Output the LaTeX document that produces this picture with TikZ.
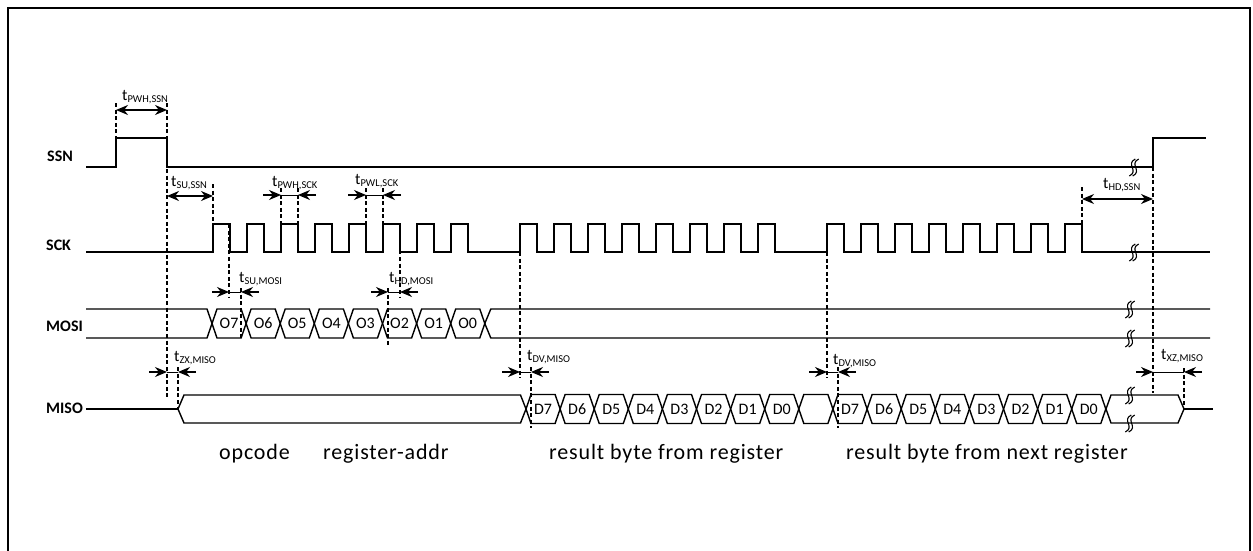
\documentclass[tikz,border=0pt]{standalone}
\usepackage{fontspec}
\setmainfont{Carlito}
\usetikzlibrary{calc, positioning, arrows.meta}

\newcommand{\tname}[1]{t\raisebox{-2pt}{\fontsize{10.5}{10.5}\selectfont #1}}
\newcommand{\buscell}[4]{
    \draw[wave] (#2,#3) -- ++(5,-14.5) -- ++(24.1,0) -- ++(5,14.5) -- ++(-5,14.5) -- ++(-24.1,0) -- cycle;
    \node[celltext] (#1) at (#2+17.05,#3) {#4};
}
\newcommand{\breakmark}[2]{
    \foreach \d in {-1.7,1.7} {
        \draw[line width=1.1pt] (#1+\d-3,#2+9) .. controls (#1+\d+7,#2+4) and (#1+\d-7,#2-3) .. (#1+\d+3,#2-8);
    };
}
\newcommand{\tinward}[5]{
    \draw[timearrow] (#1,#5) -- (#2,#5);
    \draw[timearrow] (#4,#5) -- (#3,#5);
    \draw[line width=1pt] (#2,#5) -- (#3,#5);
}

\tikzset{
    wave/.style={line width=1.4pt, line join=miter},
    dashline/.style={line width=1.5pt, dash pattern=on 4pt off 2.6pt},
    timearrow/.style={line width=1.2pt, -{Stealth[length=12pt, width=10pt]}},
    timespan/.style={line width=1.2pt, {Stealth[length=12pt, width=10pt]}-{Stealth[length=12pt, width=10pt]}},
    timelabel/.style={anchor=west, inner sep=0pt, font=\fontsize{16}{16}\selectfont},
    celltext/.style={inner sep=0pt, font=\fontsize{16}{16}\selectfont},
    signame/.style={anchor=west, inner sep=0pt, font=\fontsize{16}{16}\selectfont\bfseries},
    phase/.style={anchor=west, inner sep=0pt, font=\fontsize{22}{22}\selectfont\addfontfeature{LetterSpace=3.8}}
}

\begin{document}
\begin{tikzpicture}[x=1pt, y=-1pt]
    \useasboundingbox (0,0) rectangle (1253,551);
    \draw[line width=2.6pt] (8,551) -- (8,8) -- (1250,8) -- (1250,551);

    % signal names
    \node[signame] (ssn) at (47,156) {SSN};
    \node[signame] (sck) at (46,245) {SCK};
    \node[signame] (mosi) at (46,326) {MOSI};
    \node[signame] (miso) at (46,408) {MISO};

    % SSN and SCK
    \draw[wave] (86,167) -- (116,167) -- (116,138) -- (167,138) -- (167,167) -- (1153,167) -- (1153,138) -- (1206,138);
    \draw[wave] (86,252) foreach \b in {213,520,827} {
        foreach \i in {0,...,7} {
            -- (\b+34*\i,252) -- (\b+34*\i,224) -- (\b+34*\i+17,224) -- (\b+34*\i+17,252)
        }
    } -- (1210,252);

    % MOSI
    \draw[wave] (86,309) -- (207,309) -- (212,323.5) -- (207,338) -- (86,338);
    \foreach \l [count=\i from 0] in {O7,O6,O5,O4,O3,O2,O1,O0} {
        \pgfmathsetmacro{\cx}{212+34.1*\i}
        \buscell{mosi\l}{\cx}{323.5}{\l}
    };
    \draw[wave] (1210,309) -- (490.8,309) -- (484.8,323.5) -- (490.8,338) -- (1210,338);

    % MISO
    \draw[wave] (86,409) -- (178,409);
    \draw[wave] (178,409) -- (184,395) -- (520.5,395) -- (526,409) -- (520.5,423) -- (184,423) -- cycle;
    \foreach \l [count=\i from 0] in {D7,D6,D5,D4,D3,D2,D1,D0,} {
        \pgfmathsetmacro{\cx}{526+34.1*\i}
        \buscell{misoa\l}{\cx}{409}{\l}
    };
    \foreach \l [count=\i from 0] in {D7,D6,D5,D4,D3,D2,D1,D0} {
        \pgfmathsetmacro{\cx}{833+34.1*\i}
        \buscell{misob\l}{\cx}{409}{\l}
    };
    \draw[wave] (1106,409) -- (1111,395) -- (1178,395) -- (1184,409) -- (1178,423) -- (1111,423) -- cycle;
    \draw[wave] (1184,409) -- (1213,409);

    % break marks
    \breakmark{1134}{167}
    \breakmark{1134}{252}
    \breakmark{1130}{309}
    \breakmark{1130}{338}
    \breakmark{1130}{395}
    \breakmark{1130}{423}

    % dashed guides
    \foreach \x/\a/\c in {116/103/138, 167/103/398, 213/184/224, 229/224/298, 281/188/224, 298/188/224,
        366/188/224, 383/188/224, 400/224/298, 241/288/340, 388/288/346, 178/367/408,
        520/252/378, 531/367/428, 827/252/378, 838/367/428, 1082/187/224, 1153/167/393, 1184/368/407} {
        \draw[dashline] (\x,\a) -- (\x,\c);
    };

    % timing arrows
    \draw[timespan] (116,110) -- (167,110);
    \draw[timespan] (167,196) -- (213,196);
    \draw[timespan] (1082,199) -- (1153,199);
    \tinward{263}{281}{298}{316}{195}
    \tinward{348}{366}{383}{401}{195}
    \tinward{212}{229}{241}{259}{292}
    \tinward{371}{388}{400}{418}{292}
    \tinward{149}{167}{178}{196}{372}
    \tinward{502}{520}{531}{549}{372}
    \tinward{809}{827}{838}{856}{372}
    \tinward{1136}{1153}{1184}{1202}{372}

    % timing names
    \node[timelabel] (tpwhssn) at (122,97) {\tname{PWH,SSN}};
    \node[timelabel] (tsussn) at (171,183) {\tname{SU,SSN}};
    \node[timelabel] (tpwhsck) at (272,183) {\tname{PWH,SCK}};
    \node[timelabel] (tpwlsck) at (355,181) {\tname{PWL,SCK}};
    \node[timelabel] (tsumosi) at (239,279) {\tname{SU,MOSI}};
    \node[timelabel] (thdmosi) at (389,279) {\tname{HD,MOSI}};
    \node[timelabel] (tzxmiso) at (174,358) {\tname{ZX,MISO}};
    \node[timelabel] (tdvmisoa) at (527,357) {\tname{DV,MISO}};
    \node[timelabel] (tdvmisob) at (833,361) {\tname{DV,MISO}};
    \node[timelabel] (thdssn) at (1103,185) {\tname{HD,SSN}};
    \node[timelabel] (txzmiso) at (1161,356) {\tname{XZ,MISO}};

    % phases
    \node[phase] (opcode) at (219,454) {opcode};
    \node[phase] (regaddr) at (323,454) {register-addr};
    \node[phase] (result) at (549,454) {result byte from register};
    \node[phase] (resultnext) at (846,454) {result byte from next register};
\end{tikzpicture}
\end{document}
